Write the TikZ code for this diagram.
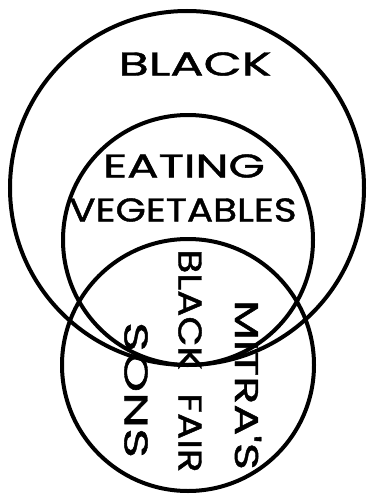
\documentclass[tikz,border=0pt]{standalone}
\usepackage{fontspec}
\newfontfamily\lblfont{Poppins}[FakeBold=1.2]
\begin{document}
\begin{tikzpicture}[x=1pt,y=1pt,
  ring/.style={line width=4pt},
  lbl/.style={inner sep=0pt, font=\fontsize{33}{33}\lblfont},
  vlbl/.style={lbl, rotate=-90}]
\useasboundingbox (0,0) rectangle (367,-495);
\draw[ring] (187,-188) circle (177);
\draw[ring] (188,-240) circle (125);
\draw[ring] (188,-365) circle (126);
\node[lbl, xscale=1.5] (black) at (195,-64) {BLACK};
\node[lbl, xscale=1.42] (eating) at (184,-166) {EATING};
\node[lbl, xscale=1.18] (veg) at (183,-210) {VEGETABLES};
\node[vlbl, xscale=1.18] (bf) at (190,-361) {BLACK\hspace{20pt}FAIR};
\node[vlbl, xscale=1.55] (sons) at (136,-390) {SONS};
\node[vlbl, xscale=1.4] (mitras) at (248,-385) {MITRA'S};
\end{tikzpicture}
\end{document}
